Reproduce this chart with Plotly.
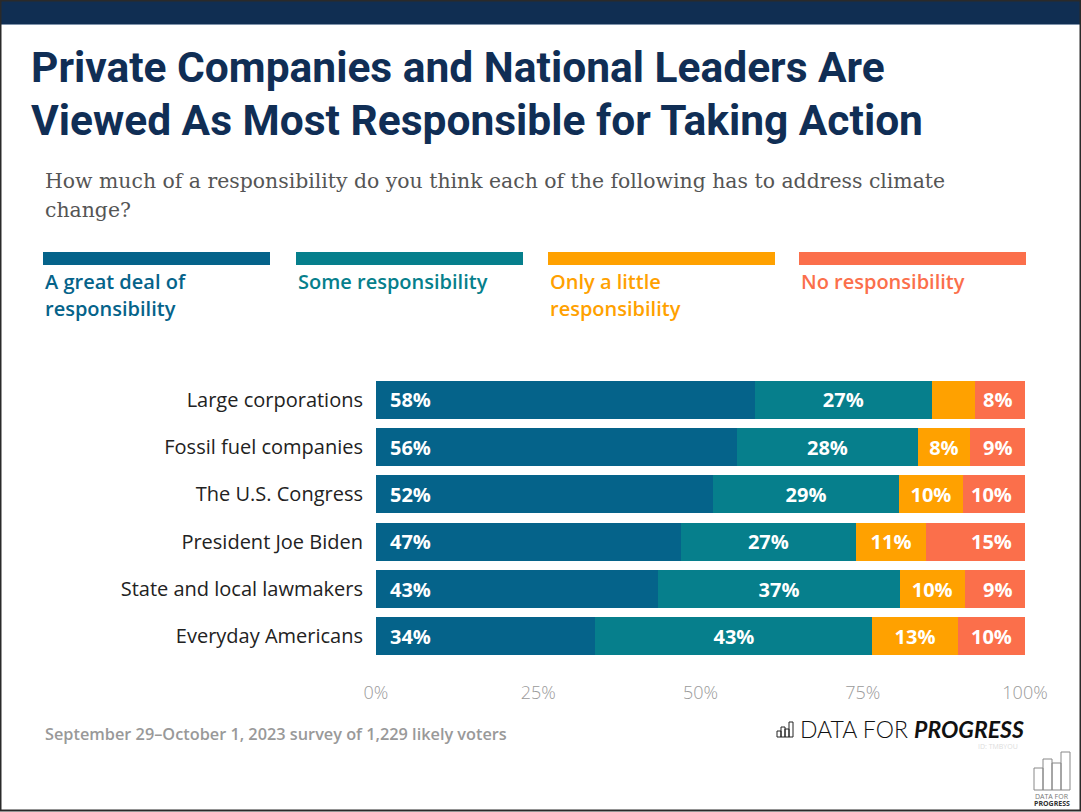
import plotly.graph_objects as go

# ---------------- data ----------------
categories = ["Large corporations", "Fossil fuel companies", "The U.S. Congress",
              "President Joe Biden", "State and local lawmakers", "Everyday Americans"]
series_names = ["A great deal of<br>responsibility", "Some responsibility",
                "Only a little<br>responsibility", "No responsibility"]
great_deal = [58.4, 55.6, 51.9, 47.0, 43.5, 33.8]
some_resp = [27.2, 27.9, 28.7, 26.9, 37.2, 42.7]
little_resp = [6.7, 8.0, 9.8, 10.9, 10.0, 13.1]
no_resp = [7.7, 8.5, 9.6, 15.2, 9.3, 10.4]
great_labels = ["58%", "56%", "52%", "47%", "43%", "34%"]
some_labels = ["27%", "28%", "29%", "27%", "37%", "43%"]
little_labels = ["", "8%", "10%", "11%", "10%", "13%"]
no_labels = ["8%", "9%", "10%", "15%", "9%", "10%"]
x_ticks = [0, 25, 50, 75, 100]
x_tick_labels = ["0%", "25%", "50%", "75%", "100%"]
colors = ["#05638a", "#067f8c", "#ffa100", "#fb6f4b"]

title_lines = ["Private Companies and National Leaders Are",
               "Viewed As Most Responsible for Taking Action"]
subtitle_lines = ["How much of a responsibility do you think each of the following has to address climate",
                  "change?"]
source_text = "September 29\u2013October 1, 2023 survey of 1,229 likely voters"

# ---------------- layout geometry ----------------
W, H = 1081, 812
ML, MR, MT, MB = 376, 56, 376, 152
PW, PH = W - ML - MR, H - MT - MB


def px(x):
    return (x - ML) / PW


def py(y):
    return (H - MB - y) / PH


BODY = "Open Sans, Lato, sans-serif"
LABEL_SIZE = 20
fig = go.Figure()

series = [great_deal, some_resp, little_resp, no_resp]
labels = [great_labels, some_labels, little_labels, no_labels]
for i, (vals, labs) in enumerate(zip(series, labels)):
    inside_txt = labs if i in (1, 2) else None
    fig.add_trace(go.Bar(
        y=categories, x=vals, orientation="h", name=series_names[i].replace("<br>", " "),
        marker=dict(color=colors[i], line=dict(width=0)),
        width=0.8,
        text=inside_txt,
        textposition="inside" if inside_txt else "none",
        insidetextanchor="middle",
        constraintext="none",
        textfont=dict(color="white", size=LABEL_SIZE, family=BODY, weight=700),
        hoverinfo="skip",
    ))

annotations = []
# blue labels at bar start, coral labels at bar end
for c, gl, nl, a, b, cc, d in zip(categories, great_labels, no_labels,
                                  great_deal, some_resp, little_resp, no_resp):
    annotations.append(dict(x=0, y=c, xref="x", yref="y", text=gl, showarrow=False,
                            xanchor="left", xshift=12,
                            font=dict(color="white", size=LABEL_SIZE, family=BODY, weight=700)))
    annotations.append(dict(x=min(a + b + cc + d, 99.999), y=c, xref="x", yref="y", text=nl,
                            showarrow=False, xanchor="right", xshift=-11,
                            font=dict(color="white", size=LABEL_SIZE, family=BODY, weight=700)))

# title
for k, line in enumerate(title_lines):
    annotations.append(dict(x=px(29), y=py(67 + 53 * k), xref="paper", yref="paper", text=line,
                            showarrow=False, xanchor="left", yanchor="middle",
                            font=dict(size=42.5, color="#102e55", weight=700,
                                      family="Liberation Sans Narrow, Arial Narrow, Roboto, sans-serif")))
# subtitle
for k, line in enumerate(subtitle_lines):
    annotations.append(dict(x=px(43), y=py(181 + 29 * k), xref="paper", yref="paper", text=line,
                            showarrow=False, xanchor="left", yanchor="middle",
                            font=dict(size=20.4, color="#555555", family="DejaVu Serif, serif")))

# legend
leg_x = [43, 296, 548, 799]
leg_w = 227
shapes = []
for i, name in enumerate(series_names):
    shapes.append(dict(type="rect", xref="paper", yref="paper",
                       x0=px(leg_x[i]), x1=px(leg_x[i] + leg_w), y0=py(265), y1=py(252),
                       fillcolor=colors[i], line=dict(width=0)))
    for k, ln in enumerate(name.split("<br>")):
        annotations.append(dict(x=px(leg_x[i]), y=py(281 + 27 * k), xref="paper", yref="paper",
                                text=ln, showarrow=False, xanchor="left", yanchor="middle",
                                font=dict(size=20, color=colors[i], family=BODY, weight=600)))

# source
annotations.append(dict(x=px(43), y=py(734), xref="paper", yref="paper", text=source_text,
                        showarrow=False, xanchor="left", yanchor="middle",
                        font=dict(size=16.3, color="#999999", family=BODY, weight=600)))

# Data for Progress logo text
annotations.append(dict(x=px(1026), y=py(729), xref="paper", yref="paper",
                        text="DATA FOR <b><i>PROGRESS</i></b>",
                        showarrow=False, xanchor="right", yanchor="middle",
                        font=dict(size=23, color="#111111", family="Lato, sans-serif", weight=300)))
annotations.append(dict(x=px(1020), y=py(746), xref="paper", yref="paper", text="ID: TMBYOU",
                        showarrow=False, xanchor="right", yanchor="middle",
                        font=dict(size=7, color="#dddddd", family=BODY)))
# small icon before logo text
icon_bars = [(777, 731), (781, 727), (785, 729), (789, 722)]
for x0, ytop in icon_bars:
    shapes.append(dict(type="rect", xref="paper", yref="paper", x0=px(x0), x1=px(x0 + 4),
                       y0=py(737), y1=py(ytop), line=dict(color="#222222", width=1),
                       fillcolor="rgba(0,0,0,0)"))
# bottom-right mini logo
mini_bars = [(1034, 768), (1043, 759), (1052, 763), (1061, 752)]
for x0, ytop in mini_bars:
    shapes.append(dict(type="rect", xref="paper", yref="paper", x0=px(x0), x1=px(x0 + 9),
                       y0=py(790), y1=py(ytop), line=dict(color="#888888", width=1),
                       fillcolor="rgba(0,0,0,0)"))
annotations.append(dict(x=px(1052), y=py(796), xref="paper", yref="paper", text="DATA FOR",
                        showarrow=False, xanchor="center", yanchor="middle",
                        font=dict(size=7, color="#777777", family=BODY)))
annotations.append(dict(x=px(1052), y=py(803), xref="paper", yref="paper", text="<b>PROGRESS</b>",
                        showarrow=False, xanchor="center", yanchor="middle",
                        font=dict(size=7, color="#333333", family=BODY)))

# header band and frame
shapes.append(dict(type="rect", xref="paper", yref="paper", x0=px(0), x1=px(W), y0=py(24), y1=py(0),
                   fillcolor="#102e52", line=dict(width=0), layer="below"))
shapes.append(dict(type="line", xref="paper", yref="paper", x0=px(0), x1=px(W), y0=py(24.5), y1=py(24.5),
                   line=dict(color="#7f93ab", width=1)))
shapes.append(dict(type="rect", xref="paper", yref="paper", x0=px(0.5), x1=px(W - 0.5),
                   y0=py(H - 1.5), y1=py(0.5), line=dict(color="#2a2a2a", width=2),
                   fillcolor="rgba(0,0,0,0)"))

fig.update_layout(
    barmode="stack",
    width=W, height=H,
    margin=dict(l=ML, r=MR, t=MT, b=MB, pad=0),
    paper_bgcolor="white", plot_bgcolor="white",
    showlegend=False,
    bargap=0.2,
    annotations=annotations,
    shapes=shapes,
    xaxis=dict(range=[0, 100], tickvals=x_ticks, ticktext=x_tick_labels, showgrid=False,
               zeroline=False, showline=False, ticks="", ticklabelstandoff=20,
               tickfont=dict(size=18, color="#9a9a9a", family=BODY, weight=300), fixedrange=True),
    yaxis=dict(categoryorder="array", categoryarray=categories, autorange="reversed",
               showgrid=False, zeroline=False, showline=False, ticks="", ticklabelstandoff=12,
               tickfont=dict(size=20, color="#222222", family=BODY), fixedrange=True),
)

fig.write_html("out.html", config={"displayModeBar": False},
               post_script="document.body.style.margin='0px';document.body.style.overflow='hidden';")
